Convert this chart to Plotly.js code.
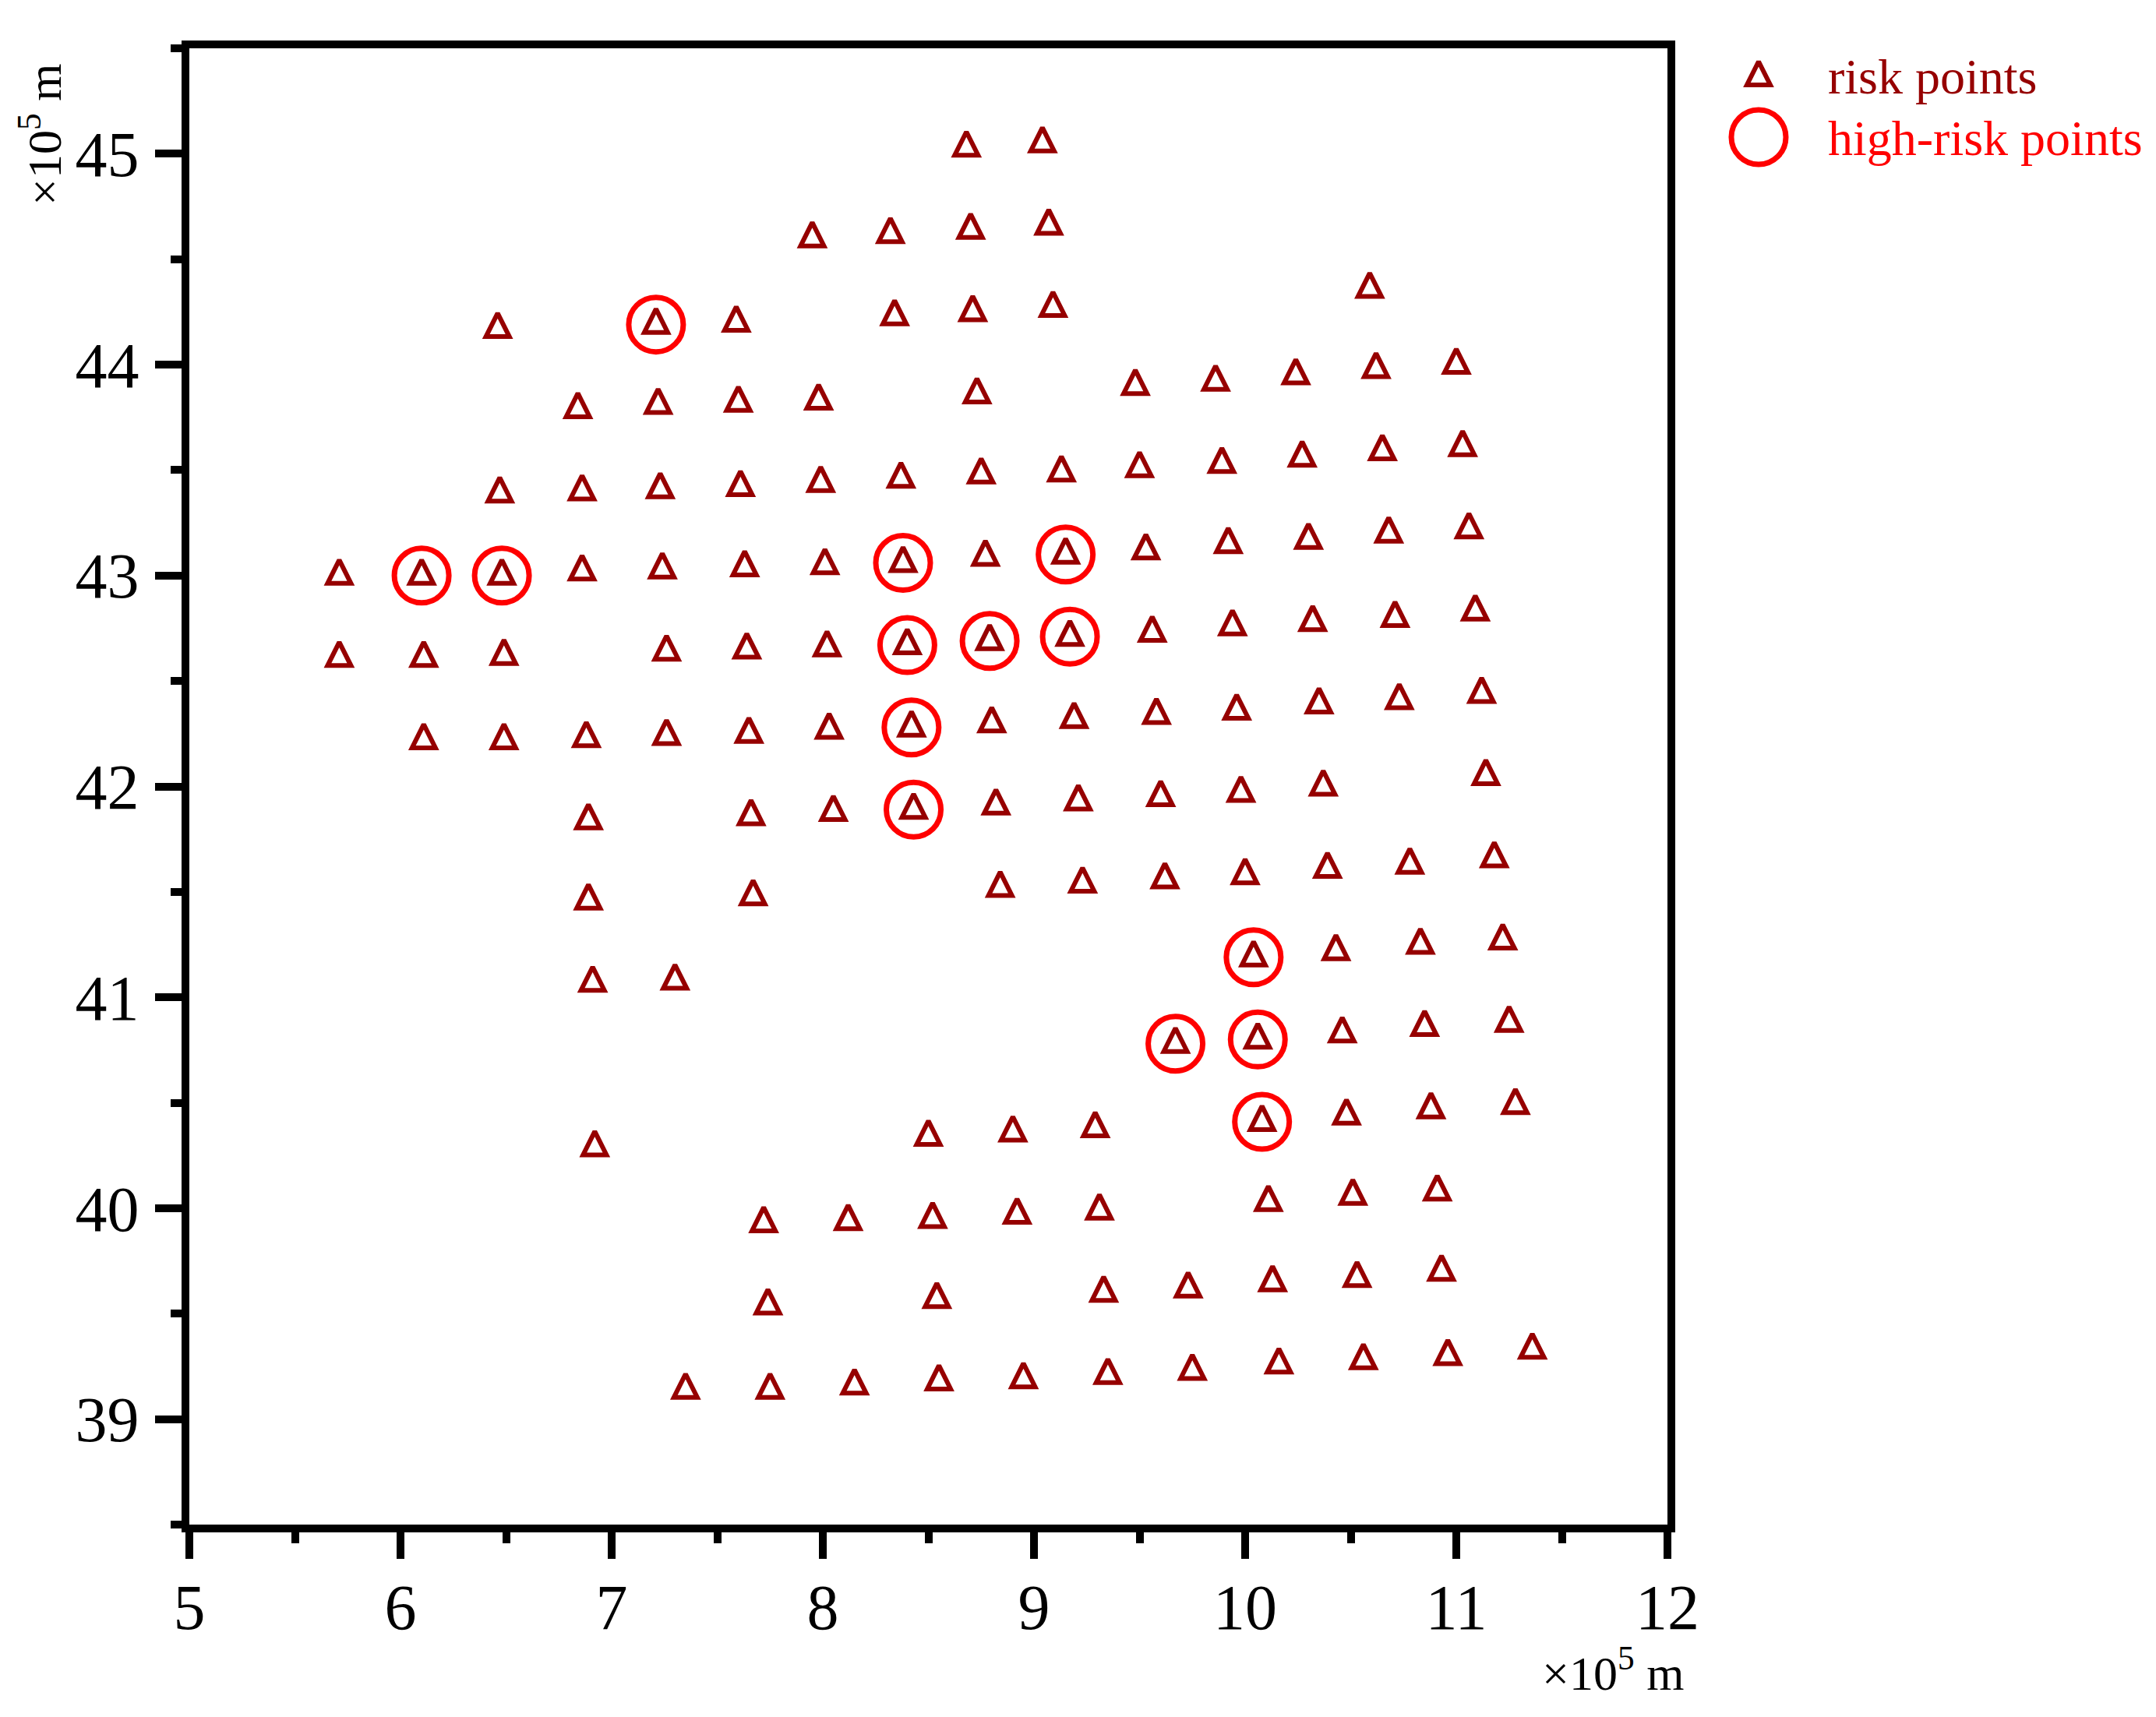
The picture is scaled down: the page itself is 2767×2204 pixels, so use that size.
<!DOCTYPE html>
<html>
<head>
<meta charset="utf-8">
<script src="https://cdn.plot.ly/plotly-3.0.1.min.js"></script>
<style>
  html, body { margin: 0; padding: 0; background: #fff; }
  #plot { width: 2767px; height: 2204px; }
</style>
</head>
<body>
<div id="plot"></div>
<script>
// risk points, x / y in 10^5 m
var riskX = [
  8.68, 9.04,
  7.95, 8.32, 8.70, 9.07,
  6.46, 7.21, 7.59, 8.34, 8.71, 9.09, 10.59,
  6.84, 7.22, 7.60, 7.98, 8.73, 9.48, 9.86, 10.24, 10.62, 11.00,
  6.47, 6.86, 7.23, 7.61, 7.99, 8.37, 8.75, 9.13, 9.50, 9.89, 10.27, 10.65, 11.03,
  5.71, 6.10, 6.48, 6.86, 7.24, 7.63, 8.01, 8.38, 8.77, 9.15, 9.53, 9.92, 10.30, 10.68, 11.06,
  5.71, 6.11, 6.49, 7.26, 7.64, 8.02, 8.40, 8.79, 9.17, 9.56, 9.94, 10.32, 10.71, 11.09,
  6.11, 6.49, 6.88, 7.26, 7.65, 8.03, 8.42, 8.80, 9.19, 9.58, 9.96, 10.35, 10.73, 11.12,
  6.89, 7.66, 8.05, 8.43, 8.82, 9.21, 9.60, 9.98, 10.37, 11.14,
  6.89, 7.67, 8.84, 9.23, 9.62, 10.00, 10.39, 10.78, 11.18,
  6.91, 7.30, 10.04, 10.43, 10.83, 11.22,
  9.67, 10.06, 10.46, 10.85, 11.25,
  6.92, 8.50, 8.90, 9.29, 10.08, 10.48, 10.88, 11.28,
  7.72, 8.12, 8.52, 8.92, 9.31, 10.11, 10.51, 10.91,
  7.74, 8.54, 9.33, 9.73, 10.13, 10.53, 10.93,
  7.35, 7.75, 8.15, 8.55, 8.95, 9.35, 9.75, 10.16, 10.56, 10.96, 11.36
];
var riskY = [
  45.03, 45.05,
  44.60, 44.62, 44.64, 44.66,
  44.17, 44.19, 44.20, 44.23, 44.25, 44.27, 44.36,
  43.79, 43.81, 43.82, 43.83, 43.86, 43.90, 43.92, 43.95, 43.98, 44.00,
  43.39, 43.40, 43.41, 43.42, 43.44, 43.46, 43.48, 43.49, 43.51, 43.53, 43.56, 43.59, 43.61,
  43.00, 43.00, 43.00, 43.02, 43.03, 43.04, 43.05, 43.06, 43.09, 43.10, 43.12, 43.15, 43.17, 43.20, 43.22,
  42.61, 42.61, 42.62, 42.64, 42.65, 42.66, 42.67, 42.69, 42.71, 42.73, 42.76, 42.78, 42.80, 42.83,
  42.22, 42.22, 42.23, 42.24, 42.25, 42.27, 42.28, 42.30, 42.32, 42.34, 42.36, 42.39, 42.41, 42.44,
  41.84, 41.86, 41.88, 41.89, 41.91, 41.93, 41.95, 41.97, 42.00, 42.05,
  41.46, 41.48, 41.52, 41.54, 41.56, 41.58, 41.61, 41.63, 41.66,
  41.07, 41.08, 41.19, 41.22, 41.25, 41.27,
  40.78, 40.80, 40.83, 40.86, 40.88,
  40.29, 40.34, 40.36, 40.38, 40.41, 40.44, 40.47, 40.49,
  39.93, 39.94, 39.95, 39.97, 39.99, 40.03, 40.06, 40.08,
  39.54, 39.57, 39.60, 39.62, 39.65, 39.67, 39.70,
  39.14, 39.14, 39.16, 39.18, 39.19, 39.21, 39.23, 39.26, 39.28, 39.30, 39.33
];

// high-risk points (circled)
var highX = [7.21, 6.10, 6.48, 8.38, 9.15, 8.40, 8.79, 9.17, 8.42, 8.43, 10.04, 9.67, 10.06, 10.08];
var highY = [44.19, 43.00, 43.00, 43.06, 43.10, 42.67, 42.69, 42.71, 42.28, 41.89, 41.19, 40.78, 40.80, 40.41];

var xTicks = [5, 6, 7, 8, 9, 10, 11, 12];
var yTicks = [39, 40, 41, 42, 43, 44, 45];
var legendNames = ["risk points", "high-risk points"];

var darkRed = "#960000";
var brightRed = "#ff0000";
var serif = "Liberation Serif, Times New Roman, serif";

// plotly's own triangle is squat, so use a flipped arrow head (same width and height)
// pulled back so that its centroid sits on the data point
var triSize = 30;
var triMarker = {
  symbol: "arrow-down-open", angle: 180, standoff: triSize * 2 / 3,
  size: triSize, color: darkRed, line: { width: 6, color: darkRed }
};
var circMarker = { symbol: "circle-open", size: 70, color: brightRed, line: { width: 7, color: brightRed } };

var traces = [
  { x: riskX, y: riskY, type: "scatter", mode: "markers", marker: triMarker, name: legendNames[0], hoverinfo: "x+y" },
  { x: highX, y: highY, type: "scatter", mode: "markers", marker: circMarker, name: legendNames[1], hoverinfo: "x+y" },
  // legend symbols on a hidden helper axis
  { x: [70.5], y: [37], xaxis: "x2", yaxis: "y2", type: "scatter", mode: "markers", marker: triMarker, hoverinfo: "skip", cliponaxis: false },
  { x: [70.5], y: [114], xaxis: "x2", yaxis: "y2", type: "scatter", mode: "markers", marker: circMarker, hoverinfo: "skip", cliponaxis: false }
];

var axisCommon = {
  showgrid: false,
  zeroline: false,
  showline: true,
  linecolor: "black",
  linewidth: 10,
  mirror: true,
  ticks: "outside",
  ticklen: 34,
  tickwidth: 10,
  tickcolor: "black",
  tickfont: { family: serif, size: 82, color: "black" },
  minor: { dtick: 0.5, ticks: "outside", ticklen: 14, tickwidth: 10, tickcolor: "black" }
};

var layout = {
  width: 2767,
  height: 2204,
  paper_bgcolor: "white",
  plot_bgcolor: "white",
  showlegend: false,
  margin: { l: 243, r: 0, t: 62, b: 247 },
  xaxis: Object.assign({}, axisCommon, {
    domain: [0, 1897 / 2524],
    range: [5, 12],
    tickvals: xTicks,
    ticktext: xTicks.map(String),
    ticklabelstandoff: -8
  }),
  yaxis: Object.assign({}, axisCommon, {
    range: [38.5, 45.5],
    tickvals: yTicks,
    ticktext: yTicks.map(String),
    ticklabelstandoff: 4
  }),
  xaxis2: { domain: [0.77, 1], range: [0, 580.5], visible: false, anchor: "y2", fixedrange: true },
  yaxis2: { domain: [0.85, 1], range: [284.25, 0], visible: false, anchor: "x2", fixedrange: true },
  annotations: [
    {
      text: "×10<sup>5</sup> m", xref: "paper", yref: "paper",
      x: -0.0757, y: 0.9414, xanchor: "center", yanchor: "middle",
      textangle: -90, showarrow: false,
      font: { family: serif, size: 62, color: "black" }
    },
    {
      text: "×10<sup>5</sup> m", xref: "paper", yref: "paper",
      x: 0.7239, y: -0.0982, xanchor: "center", yanchor: "middle",
      showarrow: false,
      font: { family: serif, size: 62, color: "black" }
    },
    {
      text: legendNames[0], xref: "paper", yref: "paper",
      x: 0.8324, y: (1957 - 98) / 1895, xanchor: "left", yanchor: "middle",
      showarrow: false,
      font: { family: serif, size: 64, color: darkRed }
    },
    {
      text: legendNames[1], xref: "paper", yref: "paper",
      x: 0.8324, y: (1957 - 178) / 1895, xanchor: "left", yanchor: "middle",
      showarrow: false,
      font: { family: serif, size: 64, color: brightRed }
    }
  ]
};

Plotly.newPlot("plot", traces, layout, { staticPlot: true });
</script>
</body>
</html>
